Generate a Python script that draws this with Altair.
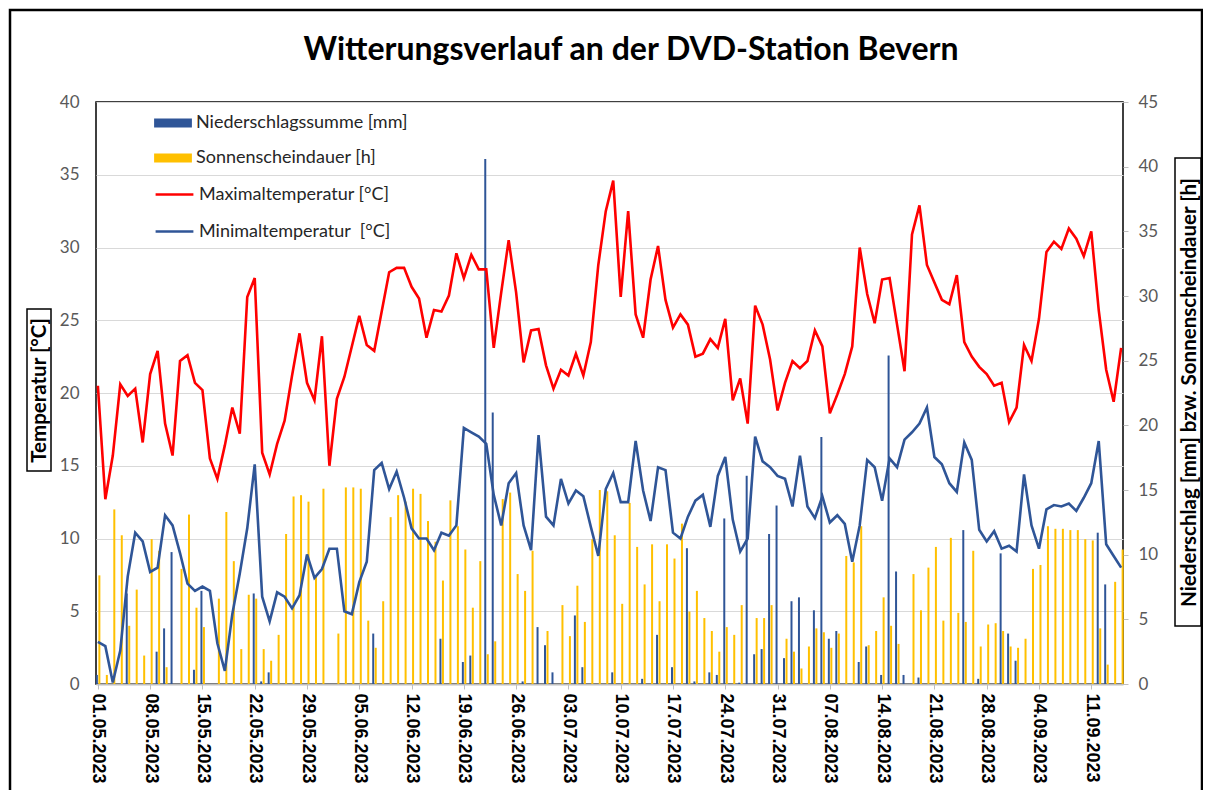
import altair as alt
import pandas as pd

# ---- data (01.05.2023 .. 15.09.2023, one value per day) ----
title_text = "Witterungsverlauf an der DVD-Station Bevern"
series_bar = ["Niederschlagssumme [mm]", "Sonnenscheindauer [h]"]
series_line = ["Maximaltemperatur [°C]", "Minimaltemperatur\u00a0 [°C]"]

tmax = [20.5, 12.7, 15.7, 20.6, 19.8, 20.3, 16.6, 21.3, 22.9, 17.9,
        15.7, 22.2, 22.6, 20.7, 20.2, 15.5, 14.1, 16.4, 19.0, 17.2,
        26.6, 27.9, 15.9, 14.4, 16.5, 18.1, 21.2, 24.1, 20.7, 19.5,
        23.9, 15.0, 19.6, 21.1, 23.2, 25.3, 23.3, 22.9, 25.6, 28.3,
        28.6, 28.6, 27.3, 26.5, 23.8, 25.7, 25.6, 26.7, 29.6, 27.9,
        29.5, 28.5, 28.5, 23.1, 26.9, 30.5, 26.9, 22.1, 24.3, 24.4,
        21.9, 20.3, 21.6, 21.2, 22.7, 21.2, 23.5, 28.8, 32.5, 34.6,
        26.6, 32.5, 25.4, 23.8, 27.8, 30.1, 26.4, 24.5, 25.4, 24.7,
        22.5, 22.7, 23.7, 23.1, 25.1, 19.5, 21.0, 17.9, 26.0, 24.7,
        22.3, 18.8, 20.7, 22.2, 21.7, 22.2, 24.3, 23.2, 18.6, 19.9,
        21.3, 23.2, 30.0, 26.8, 24.8, 27.8, 27.9, 24.7, 21.5, 30.9,
        32.9, 28.8, 27.6, 26.4, 26.1, 28.1, 23.5, 22.5, 21.8, 21.3,
        20.5, 20.7, 18.0, 19.0, 23.3, 22.2, 25.1, 29.7, 30.4, 29.9,
        31.3, 30.6, 29.4, 31.1, 25.7, 21.6, 19.4, 23.1]

tmin = [2.9, 2.6, 0.1, 2.3, 7.4, 10.4, 9.8, 7.7, 8.0, 11.6,
        10.9, 9.0, 6.9, 6.4, 6.7, 6.4, 2.8, 0.9, 4.8, 7.6,
        10.7, 15.1, 6.0, 4.3, 6.3, 6.0, 5.2, 6.1, 8.9, 7.3,
        7.9, 9.3, 9.3, 5.0, 4.8, 7.0, 8.4, 14.7, 15.2, 13.4,
        14.6, 12.8, 10.7, 10.0, 10.0, 9.2, 10.4, 10.2, 10.9, 17.6,
        17.3, 17.0, 16.5, 13.0, 10.9, 13.8, 14.5, 10.9, 9.2, 17.1,
        11.5, 10.9, 14.1, 12.4, 13.3, 12.9, 10.8, 8.8, 13.4, 14.5,
        12.5, 12.5, 16.7, 13.3, 11.2, 14.9, 14.7, 10.4, 10.0, 11.5,
        12.6, 13.0, 10.8, 14.3, 15.6, 11.3, 9.1, 10.0, 17.0, 15.3,
        14.9, 14.3, 14.1, 12.2, 15.7, 12.2, 11.4, 12.9, 11.1, 11.6,
        11.0, 8.4, 10.9, 15.4, 14.9, 12.6, 15.5, 14.9, 16.8, 17.3,
        17.9, 19.0, 15.6, 15.1, 13.8, 13.2, 16.6, 15.4, 10.6, 9.8,
        10.5, 9.3, 9.5, 9.1, 14.4, 10.9, 9.3, 12.0, 12.3, 12.2,
        12.4, 11.9, 12.8, 13.8, 16.7, 9.6, 8.8, 8.0]

precip = [0.7, 0, 0, 0, 7.0, 0, 0, 0, 2.5, 4.3,
          10.2, 0, 0, 1.1, 7.2, 0, 0, 0, 0, 0,
          0, 7.0, 0.2, 0.9, 0, 0, 0, 0, 0, 0,
          0, 0, 0, 0, 0, 0, 0, 3.9, 0, 0,
          0, 0, 0, 0, 0, 0, 3.5, 0, 0, 1.7,
          2.2, 0, 40.6, 21.0, 0, 0, 0, 0.2, 0, 4.4,
          3.0, 0.9, 0, 0, 5.3, 1.3, 0, 0, 0, 0.9,
          0, 0, 0, 0.4, 0, 3.8, 0, 1.3, 0, 10.5,
          0.2, 0, 0.9, 0.7, 12.8, 0, 0.1, 16.1, 2.3, 2.7,
          11.6, 13.8, 2.0, 6.4, 6.7, 0, 5.7, 19.1, 3.5, 4.1,
          0, 0, 1.7, 2.9, 0, 0.7, 25.4, 8.7, 0.7, 0,
          0.5, 0, 0, 0, 0, 0, 11.9, 0, 0.4, 0,
          0, 10.1, 3.9, 1.8, 0, 0, 0, 0, 0, 0,
          0, 0, 0, 0, 11.7, 7.7, 0, 0]

sun = [8.4, 0.7, 13.5, 11.5, 4.5, 7.3, 2.2, 11.2, 10.3, 1.3,
       0, 8.9, 13.1, 5.9, 4.4, 0, 6.6, 13.3, 9.5, 2.7,
       6.9, 6.6, 2.7, 1.8, 3.8, 11.6, 14.5, 14.6, 14.1, 8.3,
       15.1, 0, 3.9, 15.2, 15.2, 15.1, 4.9, 2.8, 6.4, 12.9,
       14.6, 14.1, 15.1, 14.7, 12.6, 11.0, 8.0, 14.2, 12.2, 10.4,
       5.9, 9.5, 2.3, 3.3, 14.3, 14.8, 8.5, 7.2, 10.3, 0,
       4.1, 0, 6.1, 3.7, 7.6, 4.8, 11.2, 15.0, 14.9, 11.5,
       6.2, 14.0, 10.6, 7.7, 10.8, 6.4, 10.8, 9.7, 12.4, 5.6,
       7.2, 5.1, 4.1, 2.5, 4.4, 3.8, 6.1, 0, 5.1, 5.1,
       6.1, 0, 3.5, 2.5, 1.2, 2.9, 4.3, 4.0, 2.8, 3.9,
       9.9, 9.4, 12.2, 3.0, 4.1, 6.7, 4.5, 3.1, 0, 8.5,
       5.7, 9.0, 10.6, 4.9, 11.3, 5.5, 4.8, 10.3, 2.9, 4.6,
       4.7, 4.1, 2.9, 2.8, 3.5, 8.9, 9.2, 12.2, 12.0, 12.0,
       11.9, 11.9, 11.2, 11.1, 4.3, 1.5, 7.9, 10.4]

left_ticks = [0, 5, 10, 15, 20, 25, 30, 35, 40]
right_ticks = [0, 5, 10, 15, 20, 25, 30, 35, 40, 45]

n = len(tmax)
df = pd.DataFrame({"i": list(range(n)), "tmax": tmax, "tmin": tmin,
                   "precip": precip, "sun": sun})

W, H = 1027, 582
FONT = "Lato"
BLUE = "#2F5597"
YELLOW = "#FFC000"
RED = "#FF0000"

x_enc = alt.X(
    "i:Q",
    scale=alt.Scale(domain=[-0.25, n - 0.75], nice=False, zero=False, padding=0),
    axis=alt.Axis(
        values=list(range(0, n, 7)),
        labelExpr="timeFormat(datetime(2023, 4, 1 + datum.value), '%d.%m.%Y')",
        labelAngle=90, labelFont="Liberation Sans", labelFontWeight="bold",
        labelFontSize=18, labelColor="black", labelPadding=4,
        labelOverlap=False, labelFlush=False, labelBound=False,
        tickColor="#BFBFBF", tickSize=5, domainColor="#BFBFBF", domainWidth=2,
        grid=False, title=None),
)

y_right_scale = alt.Scale(domain=[0, 45], nice=False)
y_left_scale = alt.Scale(domain=[0, 40], nice=False)

ax_right = alt.Axis(
    orient="right", values=right_ticks, grid=False, domain=False,
    tickColor="#BFBFBF", tickSize=5, labelPadding=10,
    labelFont=FONT, labelFontSize=17, labelColor="#595959",
    title="Niederschlag [mm] bzw. Sonnenscheindauer [h]",
    titleFont=FONT, titleFontSize=20.5, titleFontWeight="bold", titleColor="black",
    titleAngle=270, titleX=66, titleY=290, titleAlign="center", titleBaseline="middle")

ax_left = alt.Axis(
    orient="left", values=left_ticks, grid=True, gridColor="#D9D9D9", gridWidth=1.2,
    domain=False, ticks=False, labelPadding=17,
    labelFont=FONT, labelFontSize=17, labelColor="#595959",
    title="Temperatur [°C]",
    titleFont=FONT, titleFontSize=20.5, titleFontWeight="bold", titleColor="black",
    titleAngle=270, titleX=-57, titleY=288, titleAlign="center", titleBaseline="middle")

bar_color = alt.Color(
    "series:N",
    scale=alt.Scale(domain=series_bar, range=[BLUE, YELLOW]),
    legend=alt.Legend(
        orient="none", legendX=68, legendY=12, title=None, padding=0,
        symbolType="M-2.1,-0.5H2.1V0.5H-2.1Z", symbolSize=324, symbolStrokeWidth=0,
        labelFont=FONT, labelFontSize=18, labelColor="#262626", labelLimit=400,
        labelOffset=14, rowPadding=17),
)
line_stroke = alt.Stroke(
    "series:N",
    scale=alt.Scale(domain=series_line, range=[RED, BLUE]),
    legend=alt.Legend(
        orient="none", legendX=68, legendY=82, title=None, padding=0,
        symbolType="M-2.1,0H2.1", symbolSize=324, symbolStrokeWidth=2.5,
        labelFont=FONT, labelFontSize=18, labelColor="#262626", labelLimit=400,
        labelOffset=14, rowPadding=17),
)

base = alt.Chart(df)

precip_bar = base.transform_calculate(series="'Niederschlagssumme [mm]'").mark_bar(
    size=2, xOffset=-1).encode(
    x=x_enc, y=alt.Y("precip:Q", scale=y_right_scale, axis=ax_right), color=bar_color)
sun_bar = base.transform_calculate(series="'Sonnenscheindauer [h]'").mark_bar(
    size=2, xOffset=1.5).encode(
    x=x_enc, y=alt.Y("sun:Q", scale=y_right_scale, axis=ax_right), color=bar_color)

tmax_line = base.transform_calculate(series="'Maximaltemperatur [°C]'").mark_line(
    strokeWidth=2.6).encode(
    x=x_enc, y=alt.Y("tmax:Q", scale=y_left_scale, axis=ax_left), stroke=line_stroke)
tmin_line = base.transform_calculate(series="'Minimaltemperatur\u00a0 [°C]'").mark_line(
    strokeWidth=2.6).encode(
    x=x_enc, y=alt.Y("tmin:Q", scale=y_left_scale, axis=ax_left), stroke=line_stroke)

deco_df = pd.DataFrame({"k": [0]})
frame = alt.Chart(deco_df).mark_rect(filled=False, stroke="black", strokeWidth=2.5).encode(
    x=alt.value(-86), x2=alt.value(1106), y=alt.value(-92), y2=alt.value(740))
box_left = alt.Chart(deco_df).mark_rect(filled=False, stroke="black", strokeWidth=1.5).encode(
    x=alt.value(-69), x2=alt.value(-45), y=alt.value(207), y2=alt.value(369))
box_right = alt.Chart(deco_df).mark_rect(filled=False, stroke="black", strokeWidth=1.5).encode(
    x=alt.value(1079), x2=alt.value(1105), y=alt.value(56), y2=alt.value(524))
title_mark = alt.Chart(deco_df).mark_text(
    text=title_text, font=FONT, fontSize=32, fontWeight="bold", color="black",
    align="center", baseline="alphabetic").encode(
    x=alt.value(535), y=alt.value(-42))

bars = alt.layer(precip_bar, sun_bar)
lines = alt.layer(tmax_line, tmin_line)

chart = alt.layer(bars, lines, frame, box_left, box_right, title_mark).resolve_scale(
    y="independent"
).properties(
    width=W, height=H,
    autosize=alt.AutoSizeParams(type="none"),
    padding={"left": 88, "top": 94, "right": 80, "bottom": 106},
    background="white",
).configure_view(stroke="black", strokeWidth=1.5)

chart.save("out.html", embed_options={"renderer": "svg", "actions": False})
